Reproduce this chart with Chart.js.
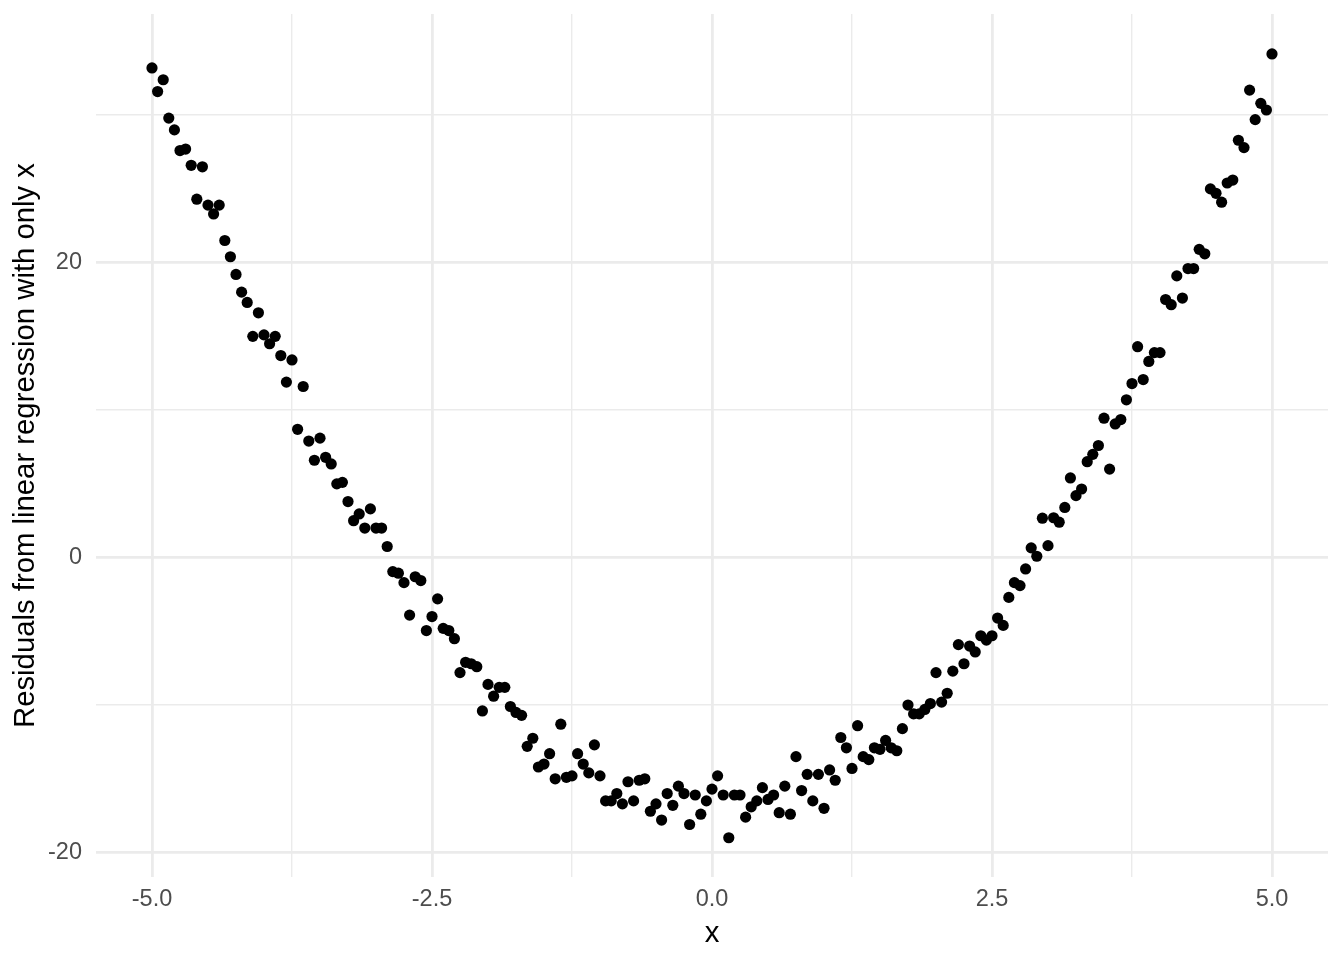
<!DOCTYPE html>
<html>
<head>
<meta charset="utf-8">
<script src="https://cdn.jsdelivr.net/npm/chart.js@4/dist/chart.umd.min.js"></script>
<style>
  html, body { margin: 0; padding: 0; background: #ffffff; }
  canvas { display: block; }
</style>
</head>
<body>
<canvas id="myChart" width="1344" height="960"></canvas>
<script>
// Residuos, uno por cada x de -5 a 5 (paso 0.05)
const residuals = [
  33.2, 31.6, 32.4, 29.8, 29.0, 27.6, 27.7, 26.6, 24.3, 26.5,
  23.9, 23.3, 23.9, 21.5, 20.4, 19.2, 18.0, 17.3, 15.0, 16.6,
  15.1, 14.5, 15.0, 13.7, 11.9, 13.4, 8.7, 11.6, 7.9, 6.6,
  8.1, 6.8, 6.35, 5.0, 5.1, 3.8, 2.5, 2.96, 2.0, 3.3,
  2.0, 2.0, 0.75, -0.95, -1.06, -1.7, -3.9, -1.3, -1.56, -4.95,
  -4.0, -2.8, -4.8, -4.95, -5.5, -7.8, -7.1, -7.2, -7.4, -10.4,
  -8.6, -9.4, -8.8, -8.8, -10.1, -10.5, -10.7, -12.8, -12.25, -14.2,
  -14.0, -13.3, -15.0, -11.3, -14.9, -14.8, -13.3, -14.0, -14.6, -12.7,
  -14.8, -16.5, -16.5, -16.0, -16.7, -15.2, -16.5, -15.1, -15.0, -17.2,
  -16.7, -17.8, -16.0, -16.8, -15.5, -16.0, -18.1, -16.1, -17.4, -16.5,
  -15.7, -14.8, -16.1, -19.0, -16.1, -16.1, -17.6, -16.9, -16.5, -15.6,
  -16.4, -16.1, -17.3, -15.5, -17.4, -13.5, -15.8, -14.7, -16.5, -14.7,
  -17.0, -14.4, -15.1, -12.2, -12.9, -14.3, -11.4, -13.5, -13.7, -12.9,
  -13.0, -12.4, -12.9, -13.1, -11.6, -10.0, -10.6, -10.6, -10.3, -9.9,
  -7.8, -9.8, -9.2, -7.7, -5.9, -7.2, -6.0, -6.4, -5.3, -5.6,
  -5.3, -4.1, -4.6, -2.7, -1.7, -1.9, -0.77, 0.66, 0.09, 2.67,
  0.81, 2.7, 2.4, 3.4, 5.4, 4.2, 4.65, 6.5, 7.0, 7.6,
  9.45, 6.0, 9.06, 9.36, 10.7, 11.8, 14.3, 12.07, 13.3, 13.9,
  13.9, 17.5, 17.15, 19.1, 17.6, 19.6, 19.6, 20.9, 20.6, 25.0,
  24.7, 24.1, 25.4, 25.6, 28.3, 27.8, 31.7, 29.7, 30.8, 30.35,
  34.15
];

// x es una secuencia regular seq(-5, 5, by = 0.05)
const xValues = residuals.map((_, i) => +(-5 + i * 0.05).toFixed(2));

const xTicks = [-5, -3.75, -2.5, -1.25, 0, 1.25, 2.5, 3.75, 5];
const xTickLabels = ['-5.0', '', '-2.5', '', '0.0', '', '2.5', '', '5.0'];
const yTicks = [-20, -10, 0, 10, 20, 30];
const yTickLabels = ['-20', '', '0', '', '20', ''];

const points = xValues.map((x, i) => ({ x: x, y: residuals[i] }));

const FONT = '"Liberation Sans", Arial, sans-serif';

function gridStyle(labels) {
    return {
        color: '#EBEBEB',
        lineWidth: (ctx) => (ctx.tick && labels[ctx.index] !== '' ? 2.8 : 1.4),
        drawTicks: false
    };
}

const ctx = document.getElementById('myChart').getContext('2d');

new Chart(ctx, {
    type: 'scatter',
    data: {
        datasets: [{
            data: points,
            backgroundColor: '#000000',
            borderWidth: 0,
            pointRadius: 5.6,
            pointHoverRadius: 5.6
        }]
    },
    options: {
        responsive: false,
        animation: false,
        layout: { padding: { top: 14, right: 16, left: 0, bottom: 0 } },
        plugins: {
            legend: { display: false },
            tooltip: { enabled: false }
        },
        scales: {
            x: {
                type: 'linear',
                min: -5.5,
                max: 5.5,
                afterBuildTicks: (scale) => { scale.ticks = xTicks.map(v => ({ value: v })); },
                afterFit: (scale) => {
                    scale.height = 83;
                    scale.paddingLeft = 0;
                    scale.paddingRight = 0;
                },
                grid: gridStyle(xTickLabels),
                border: { display: false },
                ticks: {
                    autoSkip: false,
                    maxRotation: 0,
                    padding: 8,
                    color: '#4D4D4D',
                    font: { family: FONT, size: 23.5 },
                    callback: (value, index) => xTickLabels[index]
                },
                title: {
                    display: true,
                    text: 'x',
                    color: '#000000',
                    font: { family: FONT, size: 29.3 },
                    padding: { top: 0, bottom: 9 }
                }
            },
            y: {
                type: 'linear',
                min: -21.66,
                max: 36.86,
                afterBuildTicks: (scale) => { scale.ticks = yTicks.map(v => ({ value: v })); },
                afterFit: (scale) => {
                    scale.width = 96;
                    scale.paddingTop = 0;
                    scale.paddingBottom = 0;
                },
                grid: gridStyle(yTickLabels),
                border: { display: false },
                ticks: {
                    autoSkip: false,
                    padding: 14,
                    color: '#4D4D4D',
                    font: { family: FONT, size: 23.5 },
                    callback: (value, index) => yTickLabels[index]
                },
                title: {
                    display: true,
                    text: 'Residuals from linear regression with only x',
                    color: '#000000',
                    font: { family: FONT, size: 29.3 },
                    padding: { top: 8, bottom: 0 }
                }
            }
        }
    }
});
</script>
</body>
</html>
